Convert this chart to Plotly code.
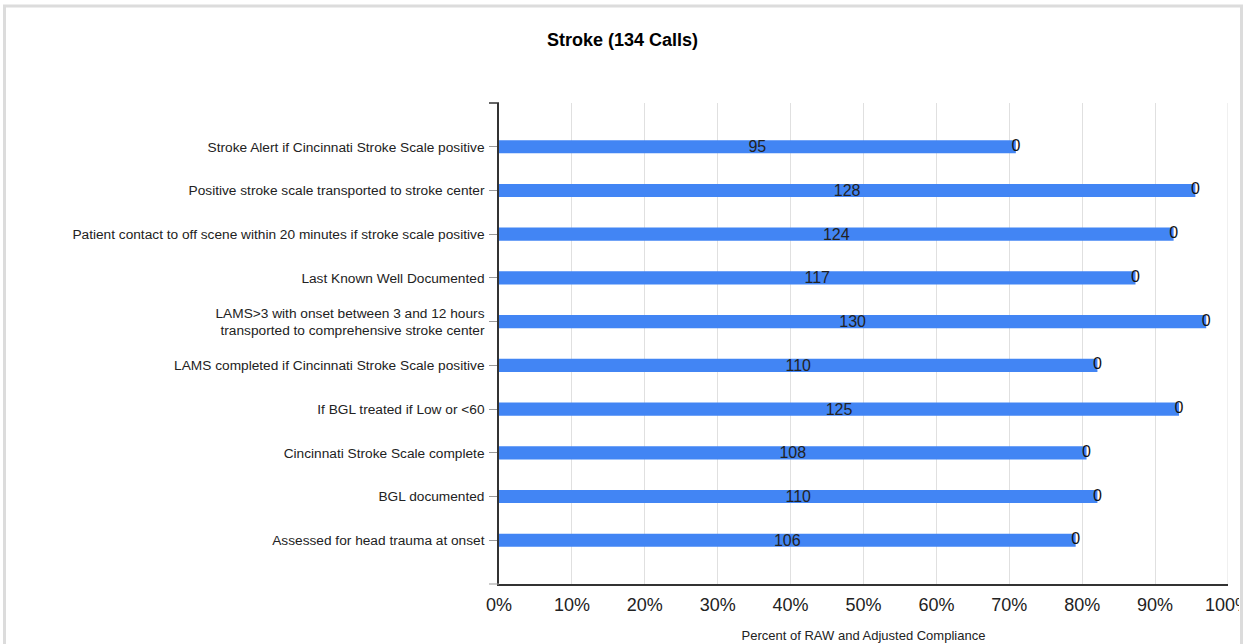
import plotly.graph_objects as go

title_text = "Stroke (134 Calls)"
total_calls = 134
categories = [
    "Stroke Alert if Cincinnati Stroke Scale positive",
    "Positive stroke scale transported to stroke center",
    "Patient contact to off scene within 20 minutes if stroke scale positive",
    "Last Known Well Documented",
    "LAMS>3 with onset between 3 and 12 hours<br>transported to comprehensive stroke center",
    "LAMS completed if Cincinnati Stroke Scale positive",
    "If BGL treated if Low or <60",
    "Cincinnati Stroke Scale complete",
    "BGL documented",
    "Assessed for head trauma at onset",
]
raw_counts = [95, 128, 124, 117, 130, 110, 125, 108, 110, 106]
adjusted_counts = [0, 0, 0, 0, 0, 0, 0, 0, 0, 0]
x_ticks = [0, 10, 20, 30, 40, 50, 60, 70, 80, 90, 100]
x_tick_labels = ["0%", "10%", "20%", "30%", "40%", "50%", "60%", "70%", "80%", "90%", "100%"]
x_title = "Percent of RAW and Adjusted Compliance"

pos = list(range(len(categories)))
raw_pct = [v / total_calls * 100 for v in raw_counts]
adj_pct = [v / total_calls * 100 for v in adjusted_counts]
end_pct = [r + a for r, a in zip(raw_pct, adj_pct)]

FONT = "Liberation Sans, Arial, sans-serif"

W, H = 1251, 644
L, R, T, B = 499, 23, 103, 60
PW, PH = W - L - R, H - T - B


def px_x(page_x):
    return (page_x - L) / PW


def px_y(page_y):
    return 1 - (page_y - T) / PH


fig = go.Figure()
fig.add_trace(go.Bar(
    y=pos, x=raw_pct, orientation="h", width=0.3,
    marker=dict(color="#4285F4", line=dict(width=0)),
    text=[str(v) for v in raw_counts], textposition="inside",
    insidetextanchor="middle",
    textfont=dict(family=FONT, size=16, color="#222222"),
    hoverinfo="skip", showlegend=False, cliponaxis=False,
))
fig.add_trace(go.Bar(
    y=pos, x=adj_pct, base=raw_pct, orientation="h", width=0.3,
    marker=dict(color="#DB4437", line=dict(width=0)),
    hoverinfo="skip", showlegend=False,
))
fig.add_trace(go.Scatter(
    y=pos, x=end_pct, mode="text",
    text=[str(v) for v in adjusted_counts], textposition="middle center",
    textfont=dict(family=FONT, size=16, color="#111111"),
    hoverinfo="skip", showlegend=False, cliponaxis=False,
))

fig.update_layout(
    width=W, height=H,
    margin=dict(l=L, r=R, t=T, b=B, autoexpand=False),
    paper_bgcolor="white", plot_bgcolor="white",
    barmode="overlay",
    uniformtext=dict(minsize=16, mode="show"),
    title=dict(text="<b>" + title_text + "</b>", x=622.5 / W, xref="container",
               xanchor="center",
               y=1 - 40 / H, yref="container", yanchor="middle",
               font=dict(family=FONT, size=18, color="#000000")),
    xaxis=dict(range=[0, 100], tickvals=x_ticks, ticktext=x_tick_labels,
               automargin=False, ticklabeloverflow="allow",
               showgrid=True, gridcolor="#e0e0e0", gridwidth=1,
               showline=True, linecolor="#333333", linewidth=1.5,
               ticks="", zeroline=False, ticklabelstandoff=4,
               tickfont=dict(family=FONT, size=18, color="#222222"),
               title=dict(text=x_title, standoff=17,
                          font=dict(family=FONT, size=13, color="#222222"))),
    yaxis=dict(range=[10, -1], tickvals=pos, ticktext=categories,
               automargin=False,
               showgrid=False, showline=True, linecolor="#333333", linewidth=1.5,
               ticks="outside", ticklen=8, tickcolor="#999999", tickwidth=1,
               zeroline=False, ticklabelstandoff=2,
               tickfont=dict(family=FONT, size=13.7, color="#222222")),
    font=dict(family=FONT),
)

# last gridline at the right edge of the plot
fig.add_shape(type="line", xref="x", yref="paper", layer="below",
              x0=x_ticks[-1], x1=x_ticks[-1], y0=0, y1=1,
              line=dict(color="#e0e0e0", width=1))
# axis end brackets
fig.add_shape(type="line", xref="paper", yref="paper",
              x0=-10 / PW, x1=0, y0=1, y1=1, line=dict(color="#333333", width=1.5))
fig.add_shape(type="line", xref="paper", yref="paper",
              x0=-10 / PW, x1=0, y0=0, y1=0, line=dict(color="#999999", width=1))
# the source image is cut at its frame: hide what lies beyond it
fig.add_shape(type="rect", xref="paper", yref="paper", layer="above",
              x0=px_x(1239), x1=px_x(1260), y0=px_y(660), y1=px_y(586),
              fillcolor="white", line=dict(width=0))
# chart frame
fig.add_shape(type="rect", xref="paper", yref="paper", layer="above",
              x0=px_x(4.5), x1=px_x(1241.5), y0=px_y(700), y1=px_y(6),
              fillcolor="rgba(0,0,0,0)", line=dict(color="#dcdcdc", width=3))

fig.write_html("out.html", config={"displayModeBar": False},
               post_script="document.body.style.margin='0';")
